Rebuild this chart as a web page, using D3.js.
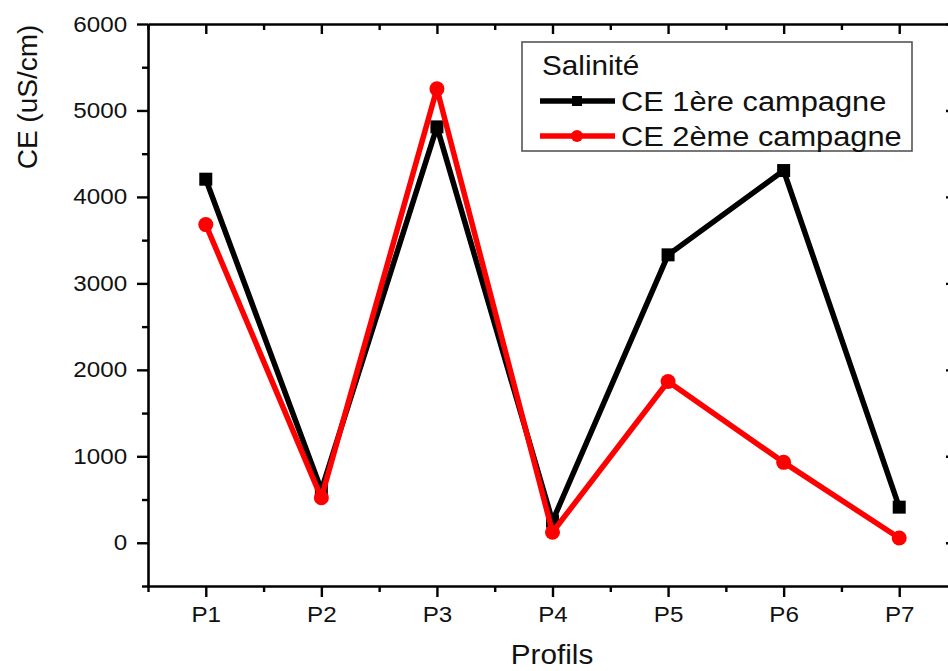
<!DOCTYPE html>
<html>
<head>
<meta charset="utf-8">
<script src="https://cdn.jsdelivr.net/npm/d3@7"></script>
<style>
  html, body { margin: 0; padding: 0; background: #fff; }
  svg { display: block; }
  text { font-family: "Liberation Sans", Arial, sans-serif; fill: #111; }
</style>
</head>
<body>
<svg id="chart" width="948" height="671"></svg>
<script>
// Electrical conductivity per profile, two sampling campaigns
const categories = ["P1", "P2", "P3", "P4", "P5", "P6", "P7"];
const ce1 = [4205, 610, 4810, 250, 3330, 4305, 412];
const ce2 = [3680, 520, 5250, 122, 1865, 930, 55];
const seriesNames = ["CE 1ère campagne", "CE 2ème campagne"];
const legendTitle = "Salinité";
const yTicks = [0, 1000, 2000, 3000, 4000, 5000, 6000];
const yMinor = [-500, 500, 1500, 2500, 3500, 4500, 5500];
const xTitle = "Profils";
const yTitle = "CE (uS/cm)";

const W = 948, H = 671;
const plotL = 148, plotR = 957, plotT = 24, plotB = 586;
const SX = 1.1; // horizontal glyph stretch

const svg = d3.select("#chart");
svg.append("rect").attr("width", W).attr("height", H).attr("fill", "#fff");

const x = d3.scaleLinear().domain([0.5, categories.length + 0.5]).range([plotL, plotR]);
const y = d3.scaleLinear().domain([-500, 6000]).range([plotB, plotT]);

const idx = categories.map((_, i) => i + 1);
const halfIdx = d3.range(0, categories.length + 1).map(i => i + 0.5);

function styleAxis(g) {
  g.selectAll("path.domain").attr("stroke", "#000").attr("stroke-width", 2.6);
  g.selectAll(".tick line").attr("stroke", "#000").attr("stroke-width", 2.4);
  g.selectAll(".tick text").attr("font-size", 22).attr("fill", "#111")
    .attr("font-family", "Liberation Sans, Arial, sans-serif");
}

// left axis
const gl = svg.append("g").attr("transform", `translate(${plotL},0)`)
  .call(d3.axisLeft(y).tickValues(yTicks).tickFormat(d3.format("d"))
    .tickSize(11).tickSizeOuter(0).tickPadding(8));
styleAxis(gl);
gl.selectAll(".tick text").attr("transform", `scale(${SX},1)`);
const glm = svg.append("g").attr("transform", `translate(${plotL},0)`)
  .call(d3.axisLeft(y).tickValues(yMinor).tickSize(6).tickFormat(""));
styleAxis(glm); glm.select("path.domain").remove();

// right axis (inward ticks)
const gr = svg.append("g").attr("transform", `translate(${plotR},0)`)
  .call(d3.axisRight(y).tickValues(yTicks).tickSize(-11).tickSizeOuter(0).tickFormat(""));
styleAxis(gr);
const grm = svg.append("g").attr("transform", `translate(${plotR},0)`)
  .call(d3.axisRight(y).tickValues(yMinor).tickSize(-6).tickFormat(""));
styleAxis(grm); grm.select("path.domain").remove();

// bottom axis
const gb = svg.append("g").attr("transform", `translate(0,${plotB})`)
  .call(d3.axisBottom(x).tickValues(idx).tickFormat(d => categories[d - 1])
    .tickSize(11).tickSizeOuter(0).tickPadding(9));
styleAxis(gb);
gb.selectAll(".tick text").attr("transform", `scale(${SX},1)`);
const gbm = svg.append("g").attr("transform", `translate(0,${plotB})`)
  .call(d3.axisBottom(x).tickValues(halfIdx).tickSize(6).tickFormat(""));
styleAxis(gbm); gbm.select("path.domain").remove();

// top axis (inward ticks)
const gt = svg.append("g").attr("transform", `translate(0,${plotT})`)
  .call(d3.axisTop(x).tickValues(idx).tickSize(-10).tickSizeOuter(0).tickFormat(""));
styleAxis(gt);
const gtm = svg.append("g").attr("transform", `translate(0,${plotT})`)
  .call(d3.axisTop(x).tickValues(halfIdx).tickSize(-6).tickFormat(""));
styleAxis(gtm); gtm.select("path.domain").remove();

// axis titles
svg.append("text").attr("transform", `translate(552,664) scale(${SX},1)`)
  .attr("text-anchor", "middle").attr("font-size", 27).text(xTitle);
svg.append("text").attr("transform", `translate(37,97) rotate(-90)`)
  .attr("text-anchor", "middle").attr("font-size", 28).text(yTitle);

// series
const series = [
  { name: seriesNames[0], values: ce1, color: "#000000", shape: "square" },
  { name: seriesNames[1], values: ce2, color: "#ff0000", shape: "circle" }
];
const line = d3.line().x((d, i) => x(i + 1)).y(d => y(d));

function drawMarker(g, cx, cy, s, size) {
  if (s.shape === "square") {
    g.append("rect").attr("x", cx - size / 2).attr("y", cy - size / 2)
      .attr("width", size).attr("height", size).attr("fill", s.color);
  } else {
    g.append("circle").attr("cx", cx).attr("cy", cy).attr("r", size / 2 + 1).attr("fill", s.color);
  }
}

series.forEach(s => {
  const g = svg.append("g");
  g.append("path").datum(s.values).attr("d", line)
    .attr("fill", "none").attr("stroke", s.color).attr("stroke-width", 5.5)
    .attr("stroke-linejoin", "round");
  s.values.forEach((v, i) => drawMarker(g, x(i + 1), y(v), s, 13));
});

// legend
const lg = svg.append("g");
lg.append("rect").attr("x", 522).attr("y", 42).attr("width", 390).attr("height", 109)
  .attr("fill", "#fff").attr("stroke", "#555").attr("stroke-width", 1.6);
lg.append("text").attr("transform", `translate(542,75) scale(${SX},1)`)
  .attr("font-size", 27).text(legendTitle);
series.forEach((s, i) => {
  const cy = 101 + i * 35;
  lg.append("line").attr("x1", 540).attr("x2", 615).attr("y1", cy).attr("y2", cy)
    .attr("stroke", s.color).attr("stroke-width", 5.5);
  drawMarker(lg, 577, cy, s, 10);
  lg.append("text").attr("transform", `translate(621,${cy}) scale(${SX},1)`)
    .attr("dy", "0.36em").attr("font-size", 28).text(s.name);
});
</script>
</body>
</html>
